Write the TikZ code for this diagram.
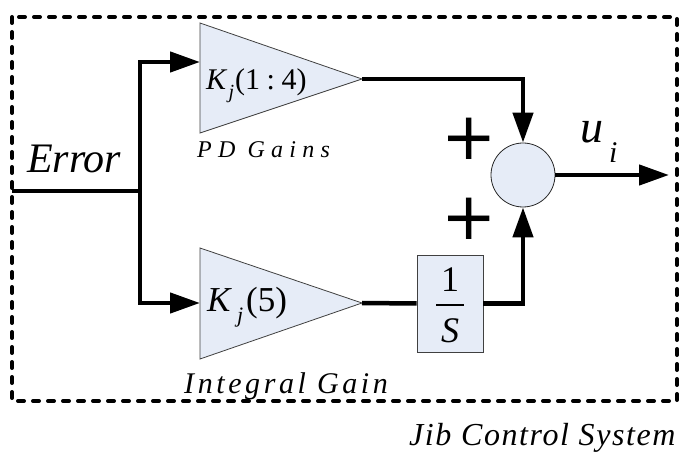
\documentclass[tikz,border=0pt]{standalone}
\usepackage{fontspec}
\setmainfont{Liberation Serif}
\newfontfamily\plusfont{DejaVu Sans}
\usetikzlibrary{arrows.meta}
\definecolor{blockfill}{RGB}{230,236,247}
\begin{document}
\begin{tikzpicture}[x=1pt,y=-1pt,
  wire/.style={line width=4.5pt},
  flow/.style={wire,-{Triangle[length=30pt,width=20pt]}},
  amp/.style={draw=black!75,line width=0.8pt,fill=blockfill},
  sumnode/.style={circle,draw=black!85,line width=0.8pt,fill=blockfill,minimum size=64pt,inner sep=0pt},
  intbox/.style={draw=black!75,line width=0.8pt,fill=blockfill,minimum width=66pt,minimum height=97pt,inner sep=0pt},
  frame/.style={line width=4pt,dash pattern=on 6pt off 9pt,line cap=round},
  lbl/.style={inner sep=0pt},
  plus/.style={inner sep=0pt,font=\plusfont\fontsize{66}{66}\selectfont,text height=43pt,text depth=0pt}]
\useasboundingbox (0,0) rectangle (686,457);
% frame
\draw[frame] (12,17) rectangle (677,401);
% amplifiers
\draw[amp] (200,23) -- (362,79) -- (200,133) -- cycle;
\draw[amp] (200,248) -- (362,303) -- (200,359) -- cycle;
\coordinate (t1in) at (200,62);
\coordinate (t1out) at (362,79);
\coordinate (t2in) at (200,303);
\coordinate (t2out) at (362,303);
% blocks
\node[sumnode] (sum) at (523,175) {};
\node[intbox] (integ) at (450,303.5) {};
% connectors
\coordinate (err) at (12,191);
\coordinate (split) at (140,191);
\coordinate (outend) at (669,175);
\draw[wire] (err) -- (split);
\draw[flow] (split) |- (t1in);
\draw[flow] (split) |- (t2in);
\draw[flow] (t1out) -| (sum.north);
\draw[wire] (t2out) -- (integ.west);
\draw[flow] (integ.east) -| (sum.south);
\draw[flow] (sum.east) -- (outend);
% labels
\node[lbl,anchor=base west,font=\fontsize{42}{42}\selectfont\itshape] (errlbl) at (27,173) {Error};
\node[lbl,anchor=base west,font=\fontsize{30}{30}\selectfont] (k1) at (206,90)
  {\textit{K}\kern1pt\raisebox{-9pt}{\fontsize{20}{20}\selectfont\textit{j}}\kern1pt(1\hspace{0.22em}:\hspace{0.22em}4)};
\node[lbl,anchor=base west,font=\fontsize{35}{35}\selectfont] (k2) at (207,312)
  {\textit{K}\kern5pt\raisebox{-11pt}{\fontsize{22}{22}\selectfont\textit{j}}\kern3pt(5)};
\node[lbl,anchor=base,font=\fontsize{36}{36}\selectfont] (one) at (450,292) {1};
\draw[line width=1.3pt] (436,305) -- (464,305);
\node[lbl,anchor=base,font=\fontsize{36}{36}\selectfont\itshape] (ess) at (450,343) {S};
\node[lbl,anchor=base west,font=\fontsize{46}{46}\selectfont\itshape] (u) at (580,143) {u};
\node[lbl,anchor=base west,font=\fontsize{30}{30}\selectfont\itshape] (usub) at (609,163) {i};
\node[plus] (p1) at (469,138) {+};
\node[plus] (p2) at (469,218) {+};
\node[lbl,anchor=base west,font=\fontsize{24}{24}\selectfont\itshape\addfontfeature{LetterSpace=26}] (pd) at (197,158) {PD Gains};
\node[lbl,anchor=base west,font=\fontsize{30}{30}\selectfont\itshape\addfontfeature{LetterSpace=12}] (ig) at (184,393) {Integral Gain};
\node[lbl,anchor=base west,font=\fontsize{32}{32}\selectfont\itshape\addfontfeature{LetterSpace=5}] (jib) at (409,445) {Jib Control System};
\end{tikzpicture}
\end{document}
